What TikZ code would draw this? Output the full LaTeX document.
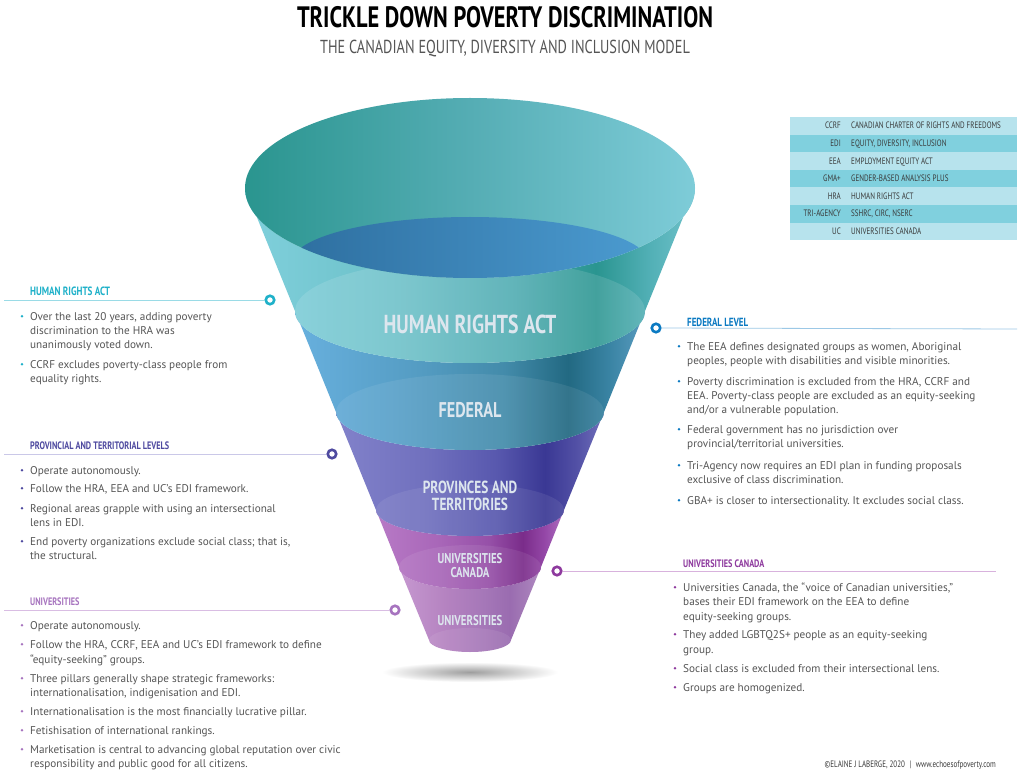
\documentclass[tikz,border=0pt]{standalone}
\usepackage{fontspec}
\setmainfont{PT Sans}
\newfontfamily\cond[FakeStretch=0.76]{PT Sans}
\frenchspacing
\definecolor{txt}{HTML}{555555}
\definecolor{legtxt}{HTML}{3A3A3A}
\definecolor{legA}{HTML}{B7E3ED}
\definecolor{legB}{HTML}{80D0DE}
\definecolor{cHRA}{HTML}{1FB1C9}
\definecolor{cPROV}{HTML}{4F4AA0}
\definecolor{cUNIV}{HTML}{A774BF}
\definecolor{cFED}{HTML}{0B7AC2}
\definecolor{cUC}{HTML}{8E3A9E}
\definecolor{lHRA}{HTML}{9ADBE6}
\definecolor{lPROV}{HTML}{CAC8E8}
\definecolor{lUNIV}{HTML}{D9BDE3}
\definecolor{lFED}{HTML}{9CC8E6}
\definecolor{lUC}{HTML}{D8B2DD}
\definecolor{labc}{HTML}{DDE6EE}
% funnel colours
\definecolor{h1}{HTML}{80D0DC}\definecolor{h2}{HTML}{6CC0C8}\definecolor{h3}{HTML}{4CAAB0}
\definecolor{h4}{HTML}{2A9590}\definecolor{h5}{HTML}{52B0B6}\definecolor{h6}{HTML}{70C2CA}
\definecolor{f1}{HTML}{68B0DE}\definecolor{f2}{HTML}{559DC4}\definecolor{f3}{HTML}{438BAA}
\definecolor{f4}{HTML}{226982}\definecolor{f5}{HTML}{3A84A4}\definecolor{f6}{HTML}{5A9CC0}
\definecolor{p1}{HTML}{8282CA}\definecolor{p2}{HTML}{7070BE}\definecolor{p3}{HTML}{5858AE}
\definecolor{p4}{HTML}{3A3894}\definecolor{p5}{HTML}{5351A6}\definecolor{p6}{HTML}{7070BB}
\definecolor{u1}{HTML}{B87AC6}\definecolor{u2}{HTML}{A866B8}\definecolor{u3}{HTML}{9650A8}
\definecolor{u4}{HTML}{7A2C8A}\definecolor{u5}{HTML}{9548A8}\definecolor{u6}{HTML}{AE70C0}
\definecolor{v1}{HTML}{C698D0}\definecolor{v2}{HTML}{B482C0}\definecolor{v3}{HTML}{A577B8}
\definecolor{v4}{HTML}{9A6CB0}\definecolor{v5}{HTML}{A57CB8}\definecolor{v6}{HTML}{B08AC2}
\definecolor{tA}{HTML}{2A958F}\definecolor{tB}{HTML}{55ADB4}\definecolor{tC}{HTML}{7ECCD8}
\definecolor{inA}{HTML}{2E6FA0}\definecolor{inB}{HTML}{4B9BD0}
\newcommand\mkshade[7]{\pgfdeclarehorizontalshading{#1}{100bp}{color(0bp)=(#2); color(25bp)=(#2); color(42bp)=(#3); color(55bp)=(#4); color(64bp)=(#5); color(70bp)=(#6); color(75bp)=(#7); color(100bp)=(#7)}}
\mkshade{hraS}{h1}{h2}{h3}{h4}{h5}{h6}
\mkshade{fedS}{f1}{f2}{f3}{f4}{f5}{f6}
\mkshade{provS}{p1}{p2}{p3}{p4}{p5}{p6}
\mkshade{ucS}{u1}{u2}{u3}{u4}{u5}{u6}
\mkshade{univS}{v1}{v2}{v3}{v4}{v5}{v6}
\pgfdeclarehorizontalshading{topS}{100bp}{color(0bp)=(tA); color(25bp)=(tA); color(50bp)=(tB); color(75bp)=(tC); color(100bp)=(tC)}
% band between ellipse a (cy,rx,ry) and ellipse b (cy,rx,ry)
\newcommand\bandpath[6]{(470-#2,#1) -- (470-#5,#4) arc[start angle=180,end angle=360,x radius=#5pt,y radius=#6pt] -- (470+#2,#1) arc[start angle=0,end angle=-180,x radius=#2pt,y radius=#3pt] -- cycle}
\newcommand\bitem[6]{\node[bdot,fill=#5] (#1d) at (#2-8,#3-3.8) {}; \node[body,anchor=base west] (#1) at (#2,#3) {#4};}
\newcommand\bline[4]{\node[body,anchor=base west] (#1) at (#2,#3) {#4};}
\newcommand\legrow[5]{\fill[#5] (790,#2) rectangle (1017,#2+17.6);
  \node[leg,anchor=base east] (#1a) at (841,#2+12) {#3};
  \node[leg,anchor=base west] (#1b) at (851,#2+12) {#4};}
\begin{document}
\begin{tikzpicture}[x=1pt,y=-1pt,
  body/.style={inner sep=0pt,text=txt,font=\fontsize{11.2}{13}\selectfont},
  bdot/.style={circle,inner sep=0pt,minimum size=2.7pt,draw=none},
  head/.style={inner sep=0pt,anchor=base west,font=\cond\bfseries\fontsize{10.8}{12}\selectfont},
  marker/.style={circle,inner sep=0pt,minimum size=8.5pt,line width=2.6pt,fill=white},
  leg/.style={inner sep=0pt,text=legtxt,font=\cond\fontsize{9.3}{10}\selectfont},
  blabel/.style={inner sep=0pt,text=labc,anchor=base,font=\cond\bfseries},
  conn/.style={line width=0.8pt}]
\useasboundingbox (0,0) rectangle (1024,775);
\fill[white] (0,0) rectangle (1024,775);
% title
\node[inner sep=0pt,anchor=base,font=\cond\bfseries\fontsize{29.5}{32}\selectfont] (title) at (505,28) {TRICKLE DOWN POVERTY DISCRIMINATION};
\node[inner sep=0pt,anchor=base,text=txt,font=\cond\fontsize{18.8}{20}\selectfont] (subtitle) at (505,54) {THE CANADIAN EQUITY, DIVERSITY AND INCLUSION MODEL};
% shadow
\shade[inner color=black!38,outer color=white] (470,672) ellipse[x radius=88pt,y radius=10pt];
% bands
\shade[shading=univS] \bandpath{567}{71}{22}{640}{41}{12};
\shade[shading=ucS] \bandpath{510}{94}{26}{567}{71}{22};
\shade[shading=provS] \bandpath{412}{134}{38}{510}{94}{26};
\shade[shading=fedS] \bandpath{311}{175}{52}{412}{134}{38};
\shade[shading=hraS] \bandpath{188}{225}{90}{311}{175}{52};
% translucent inner ellipses
\begin{scope}\clip \bandpath{188}{225}{90}{311}{175}{52};
  \fill[white,opacity=0.12] (470,311) ellipse[x radius=175pt,y radius=52pt];\end{scope}
\begin{scope}\clip \bandpath{311}{175}{52}{412}{134}{38};
  \fill[white,opacity=0.08] (470,412) ellipse[x radius=134pt,y radius=38pt];\end{scope}
\begin{scope}\clip \bandpath{412}{134}{38}{510}{94}{26};
  \fill[white,opacity=0.08] (470,510) ellipse[x radius=94pt,y radius=26pt];\end{scope}
\begin{scope}\clip \bandpath{510}{94}{26}{567}{71}{22};
  \fill[white,opacity=0.08] (470,567) ellipse[x radius=71pt,y radius=22pt];\end{scope}
\begin{scope}\clip \bandpath{567}{71}{22}{640}{41}{12};
  \fill[white,opacity=0.08] (470,640) ellipse[x radius=41pt,y radius=12pt];\end{scope}
% top opening
\shade[shading=topS] (470,188) ellipse[x radius=225pt,y radius=90pt];
\begin{scope}
  \clip (470,188) ellipse[x radius=225pt,y radius=90pt];
  \shade[left color=inA,right color=inB] (470,262) ellipse[x radius=178pt,y radius=45pt];
\end{scope}
% funnel labels
\node[blabel,font=\cond\bfseries\fontsize{26}{27}\selectfont] (labHRA) at (470,333) {HUMAN RIGHTS ACT};
\node[blabel,font=\cond\bfseries\fontsize{21.3}{22}\selectfont] (labFED) at (470,417) {FEDERAL};
\node[blabel,font=\cond\bfseries\fontsize{17.5}{18}\selectfont] (labPROVa) at (470,493) {PROVINCES AND};
\node[blabel,font=\cond\bfseries\fontsize{17.5}{18}\selectfont] (labPROVb) at (470,510) {TERRITORIES};
\node[blabel,font=\cond\bfseries\fontsize{14.2}{14}\selectfont] (labUCa) at (470,563) {UNIVERSITIES};
\node[blabel,font=\cond\bfseries\fontsize{14.2}{14}\selectfont] (labUCb) at (470,577) {CANADA};
\node[blabel,font=\cond\bfseries\fontsize{14.2}{14}\selectfont] (labUNIV) at (470,625) {UNIVERSITIES};
% legend
\legrow{r1}{117}{CCRF}{CANADIAN CHARTER OF RIGHTS AND FREEDOMS}{legA}
\legrow{r2}{134.6}{EDI}{EQUITY, DIVERSITY, INCLUSION}{legB}
\legrow{r3}{152.2}{EEA}{EMPLOYMENT EQUITY ACT}{legA}
\legrow{r4}{169.8}{GMA+}{GENDER-BASED ANALYSIS PLUS}{legB}
\legrow{r5}{187.4}{HRA}{HUMAN RIGHTS ACT}{legA}
\legrow{r6}{205}{TRI-AGENCY}{SSHRC, CIRC, NSERC}{legB}
\legrow{r7}{222.6}{UC}{UNIVERSITIES CANADA}{legA}
% ---- HRA (left)
\coordinate (hraL) at (4,300);
\node[marker,draw=cHRA] (mHRA) at (270,300) {};
\draw[conn,lHRA] (hraL) -- (mHRA);
\node[head,text=cHRA,font=\cond\bfseries\fontsize{12}{12}\selectfont] (hHRA) at (30,295) {HUMAN RIGHTS ACT};
\bitem{a1}{30}{320}{Over the last 20 years, adding poverty}{cHRA}{}
\bline{a1b}{30}{334}{discrimination to the HRA was}
\bline{a1c}{30}{348}{unanimously voted down.}
\bitem{a2}{30}{368}{CCRF excludes poverty-class people from}{cHRA}{}
\bline{a2b}{30}{382}{equality rights.}
% ---- PROV (left)
\coordinate (provL) at (4,454);
\node[marker,draw=cPROV] (mPROV) at (332,454) {};
\draw[conn,lPROV] (provL) -- (mPROV);
\node[head,text=cPROV] (hPROV) at (30,449) {PROVINCIAL AND TERRITORIAL LEVELS};
\bitem{b1}{30}{474}{Operate autonomously.}{cPROV}{}
\bitem{b2}{30}{492}{Follow the HRA, EEA and UC’s EDI framework.}{cPROV}{}
\bitem{b3}{30}{512}{Regional areas grapple with using an intersectional}{cPROV}{}
\bline{b3b}{30}{526}{lens in EDI.}
\bitem{b4}{30}{545}{End poverty organizations exclude social class; that is,}{cPROV}{}
\bline{b4b}{30}{559}{the structural.}
% ---- UNIV (left)
\coordinate (univL) at (4,610);
\node[marker,draw=cUNIV] (mUNIV) at (395,610) {};
\draw[conn,lUNIV] (univL) -- (mUNIV);
\node[head,text=cUNIV] (hUNIV) at (30,605) {UNIVERSITIES};
\bitem{c1}{30}{629}{Operate autonomously.}{cUNIV}{}
\bitem{c2}{30}{648}{Follow the HRA, CCRF, EEA and UC’s EDI framework to define}{cUNIV}{}
\bline{c2b}{30}{663}{“equity-seeking” groups.}
\bitem{c3}{30}{682}{Three pillars generally shape strategic frameworks:}{cUNIV}{}
\bline{c3b}{30}{696}{internationalisation, indigenisation and EDI.}
\bitem{c4}{30}{715}{Internationalisation is the most financially lucrative pillar.}{cUNIV}{}
\bitem{c5}{30}{734}{Fetishisation of international rankings.}{cUNIV}{}
\bitem{c6}{30}{753}{Marketisation is central to advancing global reputation over civic}{cUNIV}{}
\bline{c6b}{30}{767}{responsibility and public good for all citizens.}
% ---- FED (right)
\coordinate (fedR) at (1017,329);
\node[marker,draw=cFED] (mFED) at (656,328) {};
\draw[conn,lFED] (mFED) -- (fedR);
\node[head,text=cFED,font=\cond\bfseries\fontsize{11.8}{12}\selectfont] (hFED) at (687,326) {FEDERAL LEVEL};
\bitem{d1}{687}{350}{The EEA defines designated groups as women, Aboriginal}{cFED}{}
\bline{d1b}{687}{364}{peoples, people with disabilities and visible minorities.}
\bitem{d2}{687}{385}{Poverty discrimination is excluded from the HRA, CCRF and}{cFED}{}
\bline{d2b}{687}{399}{EEA. Poverty-class people are excluded as an equity-seeking}
\bline{d2c}{687}{413}{and/or a vulnerable population.}
\bitem{d3}{687}{433}{Federal government has no jurisdiction over}{cFED}{}
\bline{d3b}{687}{447}{provincial/territorial universities.}
\bitem{d4}{687}{469}{Tri-Agency now requires an EDI plan in funding proposals}{cFED}{}
\bline{d4b}{687}{483}{exclusive of class discrimination.}
\bitem{d5}{687}{504}{GBA+ is closer to intersectionality. It excludes social class.}{cFED}{}
% ---- UC (right)
\coordinate (ucR) at (996,571);
\node[marker,draw=cUC] (mUC) at (557,571) {};
\draw[conn,lUC] (mUC) -- (ucR);
\node[head,text=cUC] (hUC) at (683,567) {UNIVERSITIES CANADA};
\bitem{e1}{683}{591}{Universities Canada, the “voice of Canadian universities,”}{cUC}{}
\bline{e1b}{683}{605}{bases their EDI framework on the EEA to define}
\bline{e1c}{683}{620}{equity-seeking groups.}
\bitem{e2}{683}{638}{They added LGBTQ2S+ people as an equity-seeking}{cUC}{}
\bline{e2b}{683}{653}{group.}
\bitem{e3}{683}{672}{Social class is excluded from their intersectional lens.}{cUC}{}
\bitem{e4}{683}{691}{Groups are homogenized.}{cUC}{}
% footer
\node[inner sep=0pt,anchor=base east,text=legtxt,font=\cond\fontsize{9.3}{10}\selectfont] (foot) at (996,767) {©ELAINE J LABERGE, 2020\enspace|\enspace www.echoesofpoverty.com};
\end{tikzpicture}
\end{document}
